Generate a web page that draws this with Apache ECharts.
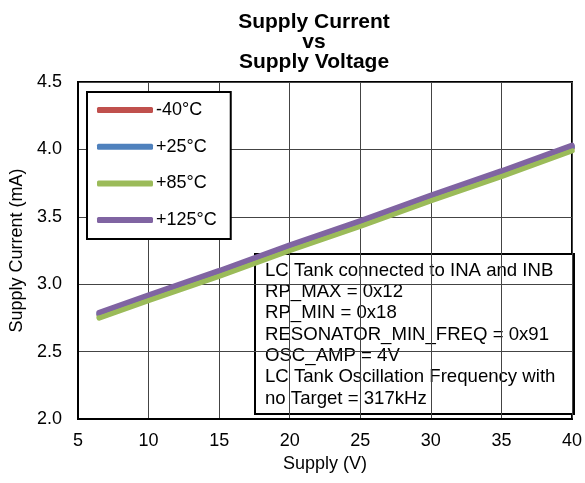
<!DOCTYPE html>
<html>
<head>
<meta charset="utf-8">
<script src="https://cdn.jsdelivr.net/npm/echarts@6/dist/echarts.min.js"></script>
<style>
  html, body { margin: 0; padding: 0; background: #fff; }
  #chart { width: 585px; height: 483px; }
</style>
</head>
<body>
<div id="chart"></div>
<script>
// Supply voltage sweep (V)
const supplyVoltage = [6.5, 10, 15, 20, 25, 30, 35, 40];

// Supply current (mA) per temperature
const currentM40 = [2.77, 2.90, 3.08, 3.27, 3.45, 3.64, 3.82, 4.01];
const current25 = [2.78, 2.91, 3.09, 3.28, 3.46, 3.65, 3.83, 4.02];
const current85 = [2.75, 2.88, 3.06, 3.25, 3.43, 3.62, 3.80, 3.99];
const current125 = [2.79, 2.92, 3.10, 3.29, 3.47, 3.66, 3.84, 4.03];

const seriesNames = ['-40°C', '+25°C', '+85°C', '+125°C'];
const seriesColors = ['#C0504D', '#4F81BD', '#9BBB59', '#8064A2'];
const seriesValues = [currentM40, current25, current85, current125];

const noteLines = [
  'LC Tank connected to INA and INB',
  'RP_MAX = 0x12',
  'RP_MIN = 0x18',
  'RESONATOR_MIN_FREQ = 0x91',
  'OSC_AMP = 4V',
  'LC Tank Oscillation Frequency with',
  'no Target = 317kHz'
];

const font = '"Liberation Sans", Arial, sans-serif';
const chart = echarts.init(document.getElementById('chart'), null, { renderer: 'canvas' });

const series = seriesNames.map((name, i) => ({
  name,
  type: 'line',
  data: supplyVoltage.map((v, j) => [v, seriesValues[i][j]]),
  showSymbol: false,
  symbol: 'none',
  lineStyle: { color: seriesColors[i], width: 5.5, cap: 'round' },
  itemStyle: { color: seriesColors[i] },
  z: 3 + i
}));

chart.setOption({
  animation: false,
  backgroundColor: '#fff',
  textStyle: { fontFamily: font },
  title: {
    text: 'Supply Current\nvs\nSupply Voltage',
    left: 309,
    top: 7,
    textAlign: 'center',
    textStyle: { fontFamily: font, fontSize: 21, fontWeight: 'bold', color: '#000', lineHeight: 20 }
  },
  grid: {
    left: 78, right: 11, top: 82, bottom: 64,
    show: true, borderColor: '#000', borderWidth: 2, backgroundColor: 'transparent'
  },
  legend: {
    left: 87, top: 92,
    orient: 'vertical',
    padding: [9, 14, 10, 10],
    itemWidth: 56, itemHeight: 6, itemGap: 18.7,
    icon: 'roundRect',
    borderColor: '#000', borderWidth: 2,
    backgroundColor: '#fff',
    textStyle: { fontFamily: font, fontSize: 18, color: '#000', padding: [0, 0, 0, -2] },
    data: seriesNames
  },
  xAxis: {
    type: 'value', min: 5, max: 40, interval: 5,
    name: 'Supply (V)', nameLocation: 'middle', nameGap: 36,
    nameTextStyle: { fontFamily: font, fontSize: 18, color: '#000' },
    axisLine: { show: true, lineStyle: { color: '#000', width: 2 } },
    axisTick: { show: false },
    axisLabel: { fontFamily: font, fontSize: 18, color: '#000', margin: 13 },
    splitLine: { show: true, lineStyle: { color: '#444', width: 1 } }
  },
  yAxis: {
    type: 'value', min: 2.0, max: 4.5, interval: 0.5,
    name: 'Supply Current (mA)', nameLocation: 'middle', nameGap: 47,
    nameTextStyle: { fontFamily: font, fontSize: 18, color: '#000' },
    axisLine: { show: true, lineStyle: { color: '#000', width: 2 } },
    axisTick: { show: false },
    axisLabel: { fontFamily: font, fontSize: 18, color: '#000', margin: 16,
      formatter: v => v.toFixed(1) },
    splitLine: { show: true, lineStyle: { color: '#444', width: 1 } }
  },
  graphic: [{
    type: 'group',
    left: 254, top: 253,
    z: 100,
    children: [
      { type: 'rect', shape: { x: 0, y: 0, width: 319, height: 160 },
        style: { fill: '#fff', stroke: '#000', lineWidth: 2 } },
      { type: 'text', left: 10, top: 6,
        style: { text: noteLines.join('\n'), font: '18.6px ' + font, fill: '#000', lineHeight: 21.3 } }
    ]
  }],
  series
});
</script>
</body>
</html>
